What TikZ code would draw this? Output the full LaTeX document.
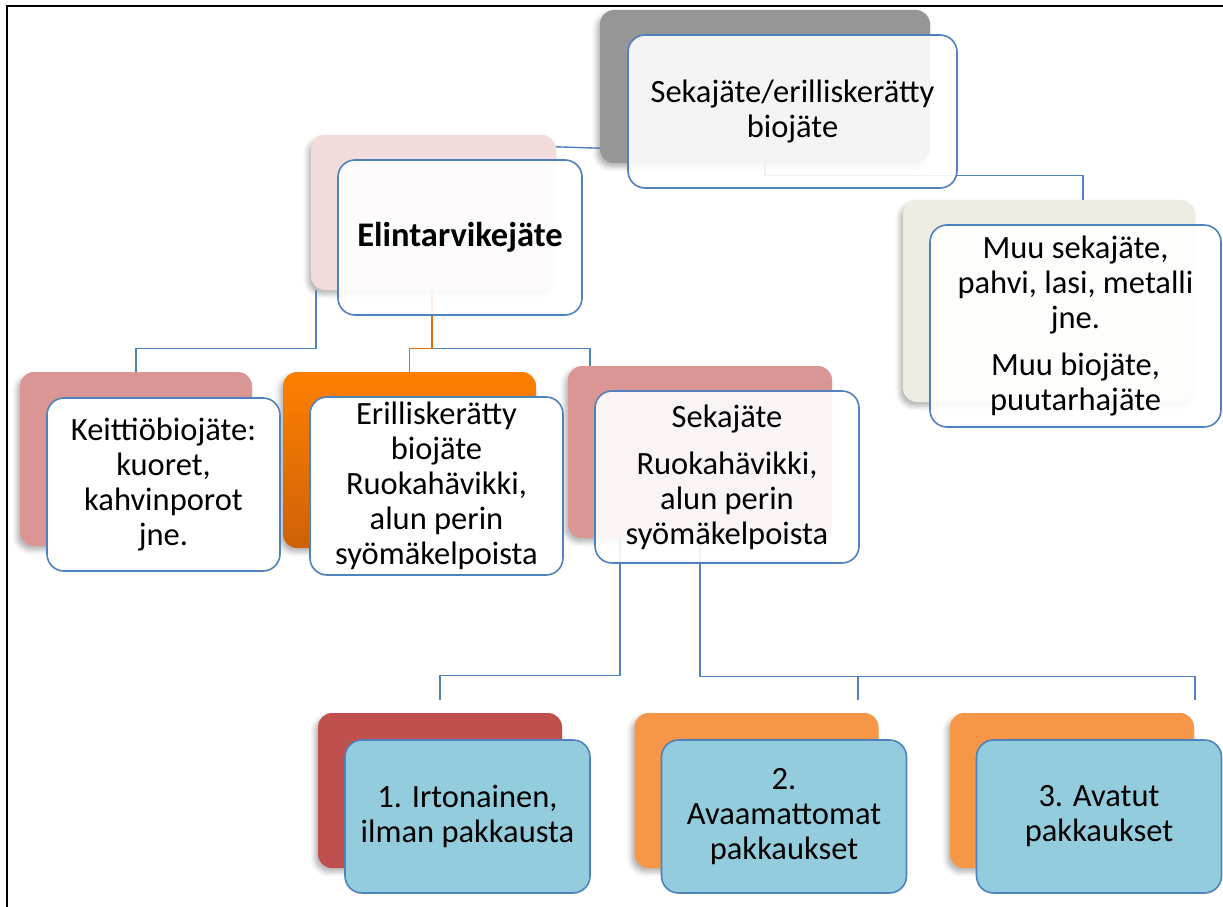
\documentclass[tikz,border=0pt]{standalone}
\usepackage{fontspec}
\setmainfont{Carlito}
\usepackage{xcolor}
\usetikzlibrary{positioning,calc,shadows.blur}
\definecolor{rimblue}{HTML}{4F81BD}
\definecolor{greyback}{HTML}{969696}
\definecolor{blushback}{HTML}{F2DCDB}
\definecolor{sandback}{HTML}{EEECE1}
\definecolor{roseback}{HTML}{D99694}
\definecolor{brickback}{HTML}{C0504D}
\definecolor{peachback}{HTML}{F79646}
\definecolor{skyfront}{HTML}{93CDDD}
\definecolor{rustline}{HTML}{E46C0A}

\begin{document}
\begin{tikzpicture}[x=1pt, y=-1pt,
    back/.style={rounded corners=14pt, inner sep=0pt,
        blur shadow={shadow xshift=-3pt, shadow yshift=-4pt, shadow blur radius=5pt, shadow opacity=30}},
    front/.style={draw=rimblue, line width=1.6pt, rounded corners=17pt, fill=white, fill opacity=0.9,
        text opacity=1, align=center, inner sep=0pt, font=\fontsize{32.5}{35}\selectfont},
    leaf/.style={front, fill=skyfront, fill opacity=1, minimum width=245pt, minimum height=153pt},
    leafback/.style={back, minimum width=244pt, minimum height=155pt},
    conn/.style={draw=rimblue, line width=1.4pt},
]
    \useasboundingbox (0,0) rectangle (1223,907);
    \draw[line width=2.5pt] (1223,6) -- (7,6) -- (7,907);

    \node[back, fill=greyback, minimum width=330pt, minimum height=153pt] (topb) at (765,86.5) {};
    \node[back, fill=blushback, minimum width=245pt, minimum height=155pt] (elinb) at (433.5,212.5) {};
    \node[back, fill=sandback, minimum width=292pt, minimum height=202pt] (muub) at (1049,301) {};
    \node[back, fill=roseback, minimum width=232pt, minimum height=174pt] (keitb) at (136,459) {};
    \node[back, top color=orange, bottom color=rustline!90!black, minimum width=253pt, minimum height=176pt] (erilb) at (409.5,460) {};
    \node[back, fill=roseback, minimum width=264pt, minimum height=172pt] (sekab) at (700,452) {};
    \node[leafback, fill=brickback] (irtob) at (440,790.5) {};
    \node[leafback, fill=peachback] (avaab) at (756.5,790.5) {};
    \node[leafback, fill=peachback] (avatb) at (1072,790.5) {};

    \draw[conn] ([yshift=15pt]topb.south west) -- ([yshift=-12pt]elinb.north east);
    \draw[conn] (topb.south) -- ++(0,12) -| ([xshift=34pt]muub.north);
    \draw[conn] ([xshift=-117.5pt]elinb.south) -- ++(0,58) -| (keitb.north);
    \draw[conn] ([xshift=-1.5pt]elinb.south) -- ++(0,58) -| ([xshift=-110pt]sekab.north);
    \draw[conn, draw=rustline] ([xshift=-1.5pt]elinb.south) -- ++(0,58) -| (erilb.north);
    \draw[conn] ([xshift=-80pt]sekab.south) -- ++(0,137) -| ([yshift=13pt]irtob.north);
    \draw[conn] (sekab.south) -- ++(0,138) coordinate (split) -| ([xshift=123pt,yshift=13pt]avatb.north);
    \draw[conn] ([xshift=101.5pt]split -| avaab.north) -- ([xshift=101.5pt,yshift=13pt]avaab.north);

    \node[front, minimum width=329pt, minimum height=153pt] (top) at (792.5,111.5) {Sekajäte/erilliskerätty\\biojäte};
    \node[front, minimum width=244pt, minimum height=155pt, font=\fontsize{34.5}{38}\selectfont\bfseries] (elin) at (460,237.5) {Elintarvikejäte};
    \node[front, minimum width=291pt, minimum height=202pt] (muu) at (1075.5,326) {Muu sekajäte,\\pahvi, lasi, metalli\\jne.\\[12pt]Muu biojäte,\\puutarhajäte};
    \node[front, fill opacity=1, minimum width=233pt, minimum height=173pt] (keit) at (163.5,484.5) {Keittiöbiojäte:\\kuoret,\\kahvinporot\\jne.};
    \node[front, fill opacity=1, minimum width=253pt, minimum height=178pt] (eril) at (436.5,486) {Erilliskerätty\\biojäte\\Ruokahävikki,\\alun perin\\syömäkelpoista};
    \node[front, minimum width=264pt, minimum height=172pt] (seka) at (727,477) {Sekajäte\\[12pt]Ruokahävikki,\\alun perin\\syömäkelpoista};
    \node[leaf] (irto) at (467.5,816.5) {1. Irtonainen,\\ilman pakkausta};
    \node[leaf] (avaa) at (784,816.5) {2.\\Avaamattomat\\pakkaukset};
    \node[leaf] (avat) at (1099,816.5) {3. Avatut\\pakkaukset};
\end{tikzpicture}
\end{document}
